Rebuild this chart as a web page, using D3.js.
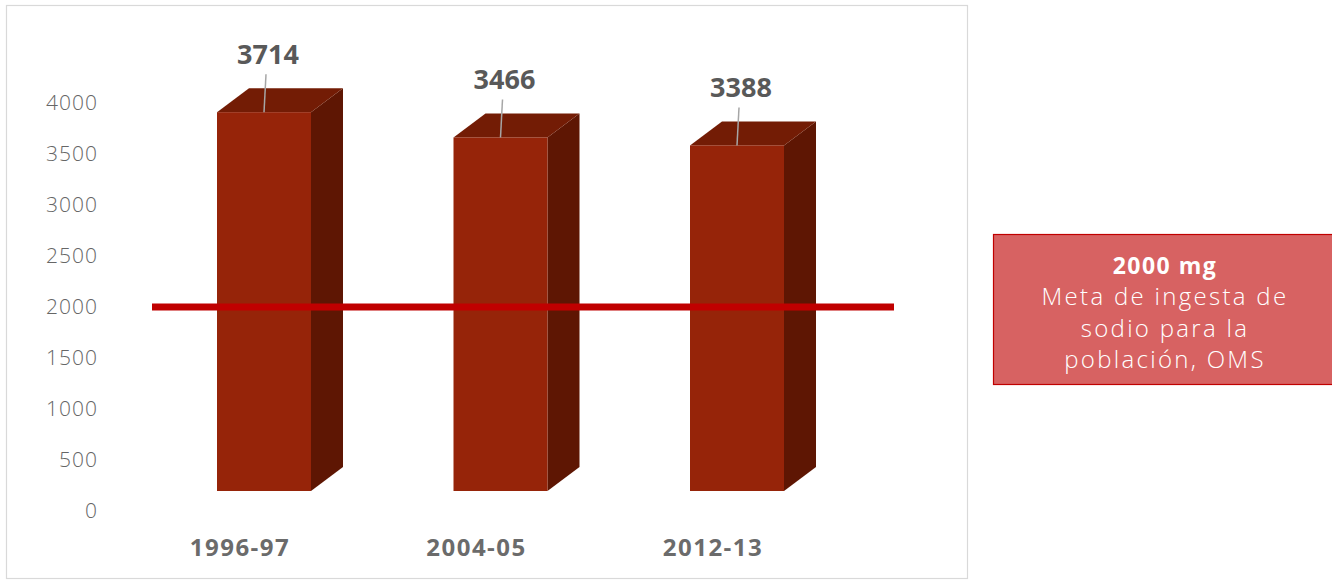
<!DOCTYPE html>
<html><head><meta charset="utf-8">
<script src="https://cdn.jsdelivr.net/npm/d3@7"></script>
<style>body{margin:0;background:#fff}svg{display:block}</style>
</head><body>
<svg id="c" width="1332" height="581"></svg>
<script>
const categories = ["1996-97", "2004-05", "2012-13"];
const values = [3714, 3466, 3388];
const yTicks = [0, 500, 1000, 1500, 2000, 2500, 3000, 3500, 4000];
const targetValue = 2000;
const noteTitle = "2000 mg";
const noteLines = ["Meta de ingesta de", "sodio para la", "población, OMS"];

const svg = d3.select("#c");
const font = "'Open Sans', 'Lato', sans-serif";

// chart frame
svg.append("rect").attr("x", 6.5).attr("y", 5.5).attr("width", 961).attr("height", 573)
  .attr("fill", "#fff").attr("stroke", "#d9d9d9").attr("stroke-width", 1.2);

const y = d3.scaleLinear().domain([0, 4000]).range([511, 103]);
const x = d3.scalePoint().domain(categories).range([264, 737]);
const barW = 94, depthX = 32, depthY = 24, frontShift = 20;

// y axis labels
const yAxis = d3.axisLeft(y).tickValues(yTicks).tickSize(0).tickPadding(0).tickFormat(d3.format("d"));
const gy = svg.append("g").attr("transform", "translate(98,0)").call(yAxis);
gy.select(".domain").remove();
gy.selectAll("text").attr("font-family", font).attr("font-size", 21).attr("font-weight", 300)
  .attr("letter-spacing", 1).attr("fill", "#666");

// bars
const bars = svg.append("g").selectAll("g").data(categories.map((c, i) => ({c, v: values[i]}))).join("g");
bars.each(function(d) {
  const g = d3.select(this);
  const x0 = x(d.c) - barW / 2, x1 = x0 + barW;
  const yt = y(d.v) - frontShift, yb = y(0) - frontShift;
  g.append("path").attr("d", `M${x1},${yt}L${x1 + depthX},${yt - depthY}L${x1 + depthX},${yb - depthY}L${x1},${yb}Z`)
    .attr("fill", "#5e1603");
  g.append("path").attr("d", `M${x0},${yt}L${x0 + depthX},${yt - depthY}L${x1 + depthX},${yt - depthY}L${x1},${yt}Z`)
    .attr("fill", "#731c05");
  g.append("rect").attr("x", x0).attr("y", yt).attr("width", barW).attr("height", yb - yt)
    .attr("fill", "#962409");
  g.append("line").attr("x1", x(d.c)).attr("y1", yt).attr("x2", x(d.c) + 2).attr("y2", yt - 38)
    .attr("stroke", "#a6a6a6").attr("stroke-width", 1.5);
  g.append("text").attr("x", x(d.c) + 4).attr("y", yt - 48).attr("text-anchor", "middle")
    .attr("font-family", font).attr("font-weight", 700).attr("font-size", 27).attr("fill", "#595959")
    .text(d.v);
});

// category labels
svg.append("g").selectAll("text").data(categories).join("text")
  .attr("x", d => x(d) - 24).attr("y", 556).attr("text-anchor", "middle")
  .attr("font-family", font).attr("font-weight", 700).attr("font-size", 24).attr("letter-spacing", 1.5)
  .attr("fill", "#6b6b6b")
  .text(d => d);

// target line
svg.append("line").attr("x1", 152).attr("x2", 894).attr("y1", y(targetValue)).attr("y2", y(targetValue))
  .attr("stroke", "#c00000").attr("stroke-width", 7);

// note box
svg.append("rect").attr("x", 993.5).attr("y", 234.5).attr("width", 345).attr("height", 150)
  .attr("fill", "#d76262").attr("stroke", "#c00000").attr("stroke-width", 1.2);
const nt = svg.append("text").attr("text-anchor", "middle").attr("font-family", font).attr("fill", "#fff");
nt.append("tspan").attr("x", 1165).attr("y", 274).attr("font-weight", 700).attr("font-size", 23)
  .attr("letter-spacing", 1.5).text(noteTitle);
noteLines.forEach((l, i) => {
  nt.append("tspan").attr("x", 1165).attr("y", 305 + i * 31.5).attr("font-size", 24).attr("font-weight", 300)
    .attr("letter-spacing", 2.3).text(l);
});
</script>
</body></html>
